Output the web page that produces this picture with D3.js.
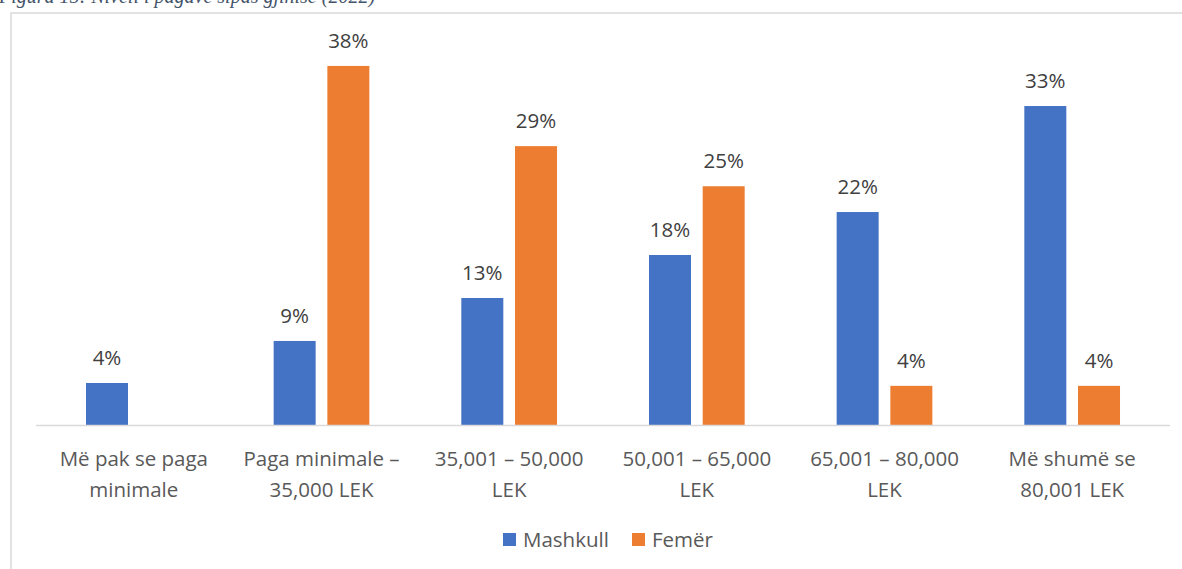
<!DOCTYPE html>
<html>
<head>
<meta charset="UTF-8">
<title>Niveli i pagave sipas gjinisë</title>
<script src="https://d3js.org/d3.v7.min.js"></script>
<style>
body { margin: 0; background: #fff; }
svg { display: block; }
</style>
</head>
<body>
<svg id="chart" width="1182" height="569"></svg>
<script>
// data
var categories = [
	["Më pak se paga", "minimale"],
	["Paga minimale –", "35,000 LEK"],
	["35,001 – 50,000", "LEK"],
	["50,001 – 65,000", "LEK"],
	["65,001 – 80,000", "LEK"],
	["Më shumë se", "80,001 LEK"]
];
var seriesNames = ["Mashkull", "Femër"];
var mashkull = [4.4, 8.8, 13.3, 17.8, 22.3, 33.4];
var femer = [null, 37.6, 29.2, 25.0, 4.1, 4.1];
var colors = ["#4472c4", "#ed7d31"];

var svg = d3.select("#chart");
var font = "'Open Sans', 'Noto Sans', sans-serif";
var fs = 20.5;

// caption, cut off at the top of the picture like in the source
svg.append("text").attr("x", -1).attr("y", 3)
	.attr("font-family", "'Liberation Serif', serif").attr("font-style", "italic")
	.attr("font-size", 20).attr("fill", "#44546a")
	.text("Figura 15: Niveli i pagave sipas gjinisë (2022)");

// chart frame
svg.append("rect").attr("x", 11).attr("y", 13).attr("width", 1200).attr("height", 600)
	.attr("fill", "none").attr("stroke", "#d9d9d9").attr("stroke-width", 1.5);

var baseY = 425;
var x0 = d3.scaleBand().domain(d3.range(categories.length)).range([40, 1166]);
var groupW = 95.7;
var x1 = d3.scaleBand().domain(seriesNames)
	.range([(x0.bandwidth() - groupW) / 2, (x0.bandwidth() + groupW) / 2])
	.paddingInner(0.218);
var y = d3.scaleLinear().domain([0, 40]).range([baseY, baseY - 382]);

var rows = categories.map(function(c, i) {
	return { i: i, vals: [mashkull[i], femer[i]] };
});

var groups = svg.selectAll("g.cat").data(rows).enter().append("g")
	.attr("class", "cat")
	.attr("transform", function(d) { return "translate(" + x0(d.i) + ",0)"; });

seriesNames.forEach(function(s, k) {
	var g = groups.filter(function(d) { return d.vals[k] != null; });
	g.append("rect")
		.attr("x", x1(s))
		.attr("y", function(d) { return y(d.vals[k]); })
		.attr("width", x1.bandwidth())
		.attr("height", function(d) { return baseY - y(d.vals[k]); })
		.attr("fill", colors[k]);
	g.append("text")
		.attr("x", x1(s) + x1.bandwidth() / 2)
		.attr("y", function(d) { return y(d.vals[k]) - 18; })
		.attr("text-anchor", "middle")
		.attr("font-family", font).attr("font-size", fs).attr("fill", "#404040")
		.text(function(d) { return Math.round(d.vals[k]) + "%"; });
});

// category axis
svg.append("line").attr("x1", 36).attr("x2", 1170).attr("y1", baseY + 0.5).attr("y2", baseY + 0.5)
	.attr("stroke", "#d9d9d9").attr("stroke-width", 1.5);

var lab = svg.selectAll("text.cat").data(categories).enter().append("text")
	.attr("class", "cat")
	.attr("text-anchor", "middle")
	.attr("font-family", font).attr("font-size", fs).attr("fill", "#595959");
lab.each(function(d, i) {
	var t = d3.select(this);
	d.forEach(function(line, j) {
		t.append("tspan").attr("x", x0(i) + x0.bandwidth() / 2).attr("y", 466 + j * 31).text(line);
	});
});

// legend
var legendX = [503, 632];
seriesNames.forEach(function(s, k) {
	svg.append("rect").attr("x", legendX[k]).attr("y", 533).attr("width", 13).attr("height", 13)
		.attr("fill", colors[k]);
	svg.append("text").attr("x", legendX[k] + 20).attr("y", 547)
		.attr("font-family", font).attr("font-size", fs).attr("fill", "#595959")
		.text(s);
});
</script>
</body>
</html>
